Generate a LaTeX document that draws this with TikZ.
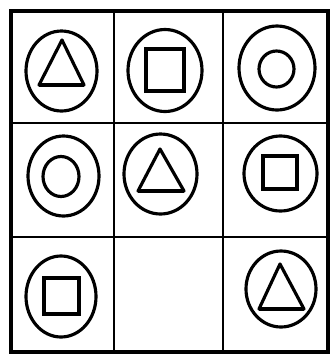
\documentclass[tikz,border=0pt]{standalone}
\begin{document}
\begin{tikzpicture}[x=1mm,y=-1mm,line join=round,line cap=round,
  frame/.style={line width=13pt},
  grid/.style={line width=7pt},
  ring/.style={line width=9pt},
  base/.style={line width=13pt,line cap=butt}]
\useasboundingbox (0,0) rectangle (335,360);
% grid
\coordinate (NW) at (11,11);
\coordinate (SE) at (328,352);
\draw[grid] (114,11)--(114,352) (223,11)--(223,352) (11,123)--(328,123) (11,237)--(328,237);
\draw[frame,line join=miter] (NW) rectangle (SE);
% row 1
\draw[ring] (61.5,71) ellipse [x radius=35.5, y radius=40];
\draw[ring] (62,40)--(39,85)--(84,85)--cycle;
\draw[base] (39,85)--(84,85);
\draw[ring] (165,70.5) ellipse [x radius=37, y radius=41];
\draw[ring,line join=miter] (146,49) rectangle (184,91);
\draw[ring] (277,68) ellipse [x radius=38, y radius=42];
\draw[ring] (276.5,69) ellipse [x radius=17.5, y radius=18];
% row 2
\draw[ring] (63.5,176) ellipse [x radius=35.5, y radius=40];
\draw[ring] (61,176.5) ellipse [x radius=18, y radius=20];
\draw[ring] (160.5,174) ellipse [x radius=36.5, y radius=40];
\draw[ring] (160,149)--(138,191)--(184,191)--cycle;
\draw[base] (138,191)--(184,191);
\draw[ring] (280.5,173.5) ellipse [x radius=36.5, y radius=37.5];
\draw[ring,line join=miter] (263,156) rectangle (297,189);
% row 3
\draw[ring] (61,296.5) ellipse [x radius=35, y radius=40.5];
\draw[ring,line join=miter] (44,278) rectangle (79,314);
\draw[ring] (281,289) ellipse [x radius=35, y radius=38];
\draw[ring] (280,264)--(259,309)--(304,309)--cycle;
\draw[base] (259,309)--(304,309);
\end{tikzpicture}
\end{document}
